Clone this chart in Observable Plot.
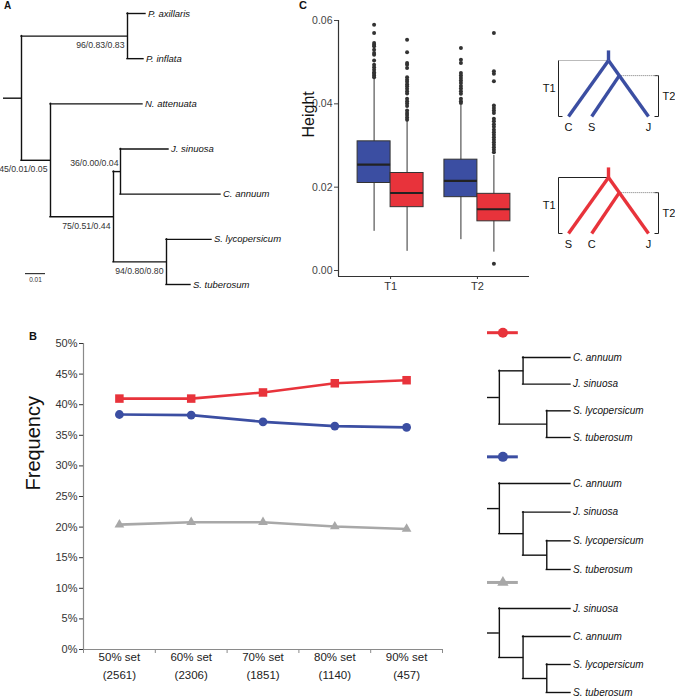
<!DOCTYPE html>
<html><head><meta charset="utf-8">
<script src="https://cdn.jsdelivr.net/npm/d3@7"></script>
<script src="https://cdn.jsdelivr.net/npm/@observablehq/plot@0.6"></script>
<style>
body{margin:0;background:#fff;}
#root{position:relative;width:675px;height:700px;overflow:hidden;font-family:"Liberation Sans",Arial,sans-serif;color:#111;}
.lab{position:absolute;font-weight:bold;line-height:1;}
</style></head><body><div id="root">
<div class="lab" style="left:4px;top:1px;font-size:10px">A</div>
<div class="lab" style="left:29px;top:331px;font-size:11px">B</div>
<div class="lab" style="left:299px;top:0px;font-size:11px">C</div>
</div>
<script>
// ---------- Panel A: phylogeny ----------
const treeANames   = ["root","n96","P. axillaris","P. inflata","n45","N. attenuata","n75","n36","J. sinuosa","C. annuum","n94","S. lycopersicum","S. tuberosum"];
const treeAParents = [null,"root","n96","n96","root","n45","n45","n75","n36","n36","n75","n94","n94"];
const treeADepths  = [0,0.053,0.062,0.061,0.0145,0.0605,0.046,0.0495,0.0735,0.0995,0.0725,0.095,0.0845];
const treeASupport = ["","96/0.83/0.83","","","45/0.01/0.05","","75/0.51/0.44","36/0.00/0.04","","","94/0.80/0.80","",""];
const scaleBarLength = 0.01;

// ---------- Panel C: boxplots ----------
const groups = ["T1","T2"];
const topologies = ["C,S,J","S,C,J"];
const topoColors = ["#3b4ea2","#e8333b"];
const boxGroup = ["T1","T1","T2","T2"];
const boxTopo  = ["C,S,J","S,C,J","C,S,J","S,C,J"];
const boxLow   = [0.0094,0.0046,0.0074,0.0044];
const boxQ1    = [0.0210,0.0152,0.0176,0.0118];
const boxMed   = [0.0254,0.0186,0.0215,0.0147];
const boxQ3    = [0.0310,0.0234,0.0266,0.0184];
const boxHigh  = [0.0460,0.0358,0.0396,0.0276];
const outT1Blue = [0.0590,0.0570,0.0546,0.0542,0.0538,0.0530,0.0522,0.0518,0.0504,0.0494,0.0488,0.0482,0.0476,0.0472,0.0468,0.0464];
const outT1Red  = [0.0554,0.0524,0.0498,0.0494,0.0486,0.0464,0.0458,0.0453,0.0447,0.0442,0.0436,0.0430,0.0425,0.0412,0.0406,0.0401,0.0395,0.0384,0.0378,0.0373,0.0367,0.0362];
const outT2Blue = [0.0534,0.0506,0.0498,0.0474,0.0468,0.0462,0.0456,0.0450,0.0443,0.0437,0.0430,0.0424,0.0412,0.0406,0.0402];
const outT2Red  = [0.0570,0.0478,0.0472,0.0454,0.0396,0.0390,0.0384,0.0378,0.0364,0.0358,0.0351,0.0345,0.0338,0.0332,0.0326,0.0320,0.0314,0.0308,0.0302,0.0296,0.0290,0.0284,0.0016];
const outliers = [outT1Blue, outT1Red, outT2Blue, outT2Red];
const heightTicks = [0,0.02,0.04,0.06];

// ---------- Panel C: topology schematics ----------
const schemBlueLeaves = ["C","S","J"];
const schemRedLeaves  = ["S","C","J"];
const schemLeafX = [0,0.29,1];
const schemT1 = 1, schemT2 = 0.73;

// ---------- Panel B: frequency lines ----------
const sets = ["50% set","60% set","70% set","80% set","90% set"];
const setSizes = ["(2561)","(2306)","(1851)","(1140)","(457)"];
const freqRed  = [41.0,41.0,42.0,43.5,44.0];
const freqBlue = [38.4,38.3,37.2,36.5,36.3];
const freqGray = [20.4,20.8,20.8,20.1,19.7];
const freqTicks = d3.range(0,51,5);
const grayColor = "#a8a8a8";

// ---------- Panel B: topology trees ----------
const tree1Names = ["root","nCJ","C. annuum","J. sinuosa","nS","S. lycopersicum","S. tuberosum"];
const tree1Parents = [null,"root","nCJ","nCJ","root","nS","nS"];
const tree1Depths = [0,1,3,3,2,3,3];
const tree2Names = ["root","C. annuum","n2","J. sinuosa","n3","S. lycopersicum","S. tuberosum"];
const tree2Parents = [null,"root","root","n2","n2","n3","n3"];
const tree2Depths = [0,3,1,3,2,3,3];
const tree3Names = ["root","J. sinuosa","n2","C. annuum","n3","S. lycopersicum","S. tuberosum"];
const tree3Parents = [null,"root","root","n2","n2","n3","n3"];
const tree3Depths = [0,3,1,3,2,3,3];

// ================= helpers =================
const FONT = "'Liberation Sans', Arial, sans-serif";
const root = document.getElementById("root");
function place(svg, left, top) {
  svg.style.position = "absolute";
  svg.style.left = left + "px";
  svg.style.top = top + "px";
  svg.style.background = "none";
  svg.style.overflow = "visible";
  svg.style.fontFamily = FONT;
  svg.style.maxWidth = "none";
  root.appendChild(svg);
}
function treeGeometry(names, parents, depths) {
  const idx = new Map(names.map((n, i) => [n, i]));
  const kids = names.map(() => []);
  parents.forEach((p, i) => { if (p !== null) kids[idx.get(p)].push(i); });
  const y = new Array(names.length);
  let leaf = 0;
  const r = parents.indexOf(null);
  (function visit(i) {
    if (!kids[i].length) { y[i] = leaf++; return; }
    kids[i].forEach(visit);
    y[i] = (y[kids[i][0]] + y[kids[i][kids[i].length - 1]]) / 2;
  })(r);
  const horiz = [], vert = [], leaves = [], nodes = [];
  names.forEach((n, i) => {
    const p = parents[i];
    if (p !== null) horiz.push({x1: depths[idx.get(p)], x2: depths[i], y: y[i], i});
    if (kids[i].length) {
      vert.push({x: depths[i], y1: y[kids[i][0]], y2: y[kids[i][kids[i].length - 1]]});
      nodes.push({x: depths[i], y: y[i], i, parentX: p === null ? depths[i] : depths[idx.get(p)]});
    } else leaves.push({x: depths[i], y: y[i], name: n});
  });
  return {horiz, vert, leaves, nodes, root: {x: depths[r], y: y[r]}, nLeaves: leaf};
}
function treeMarks(g, stub, opts) {
  const sw = opts.strokeWidth || 1.4;
  return [
    Plot.ruleY(g.horiz, {x1: "x1", x2: "x2", y: "y", stroke: "#111", strokeWidth: sw, strokeLinecap: "square"}),
    Plot.ruleX(g.vert, {x: "x", y1: "y1", y2: "y2", stroke: "#111", strokeWidth: sw, strokeLinecap: "square"}),
    Plot.ruleY([g.root], {x1: d => d.x - stub, x2: "x", y: "y", stroke: "#111", strokeWidth: sw}),
    Plot.text(g.leaves, {x: "x", y: "y", text: "name", textAnchor: "start", dx: 2.5, fontStyle: "italic", fontSize: opts.fontSize, fill: "#111"})
  ];
}

// ================= Panel A =================
{
  const g = treeGeometry(treeANames, treeAParents, treeADepths);
  const support = g.nodes.filter(d => treeASupport[d.i]).map(d => ({...d, label: treeASupport[d.i], shortBranch: (d.x - d.parentX) < 0.005}));
  const svg = Plot.plot({
    width: 270, height: 300, margin: 0,
    x: {domain: [0, 0.1], range: [21, 221], axis: null},
    y: {domain: [0, g.nLeaves - 1], range: [13, 284], axis: null},
    marks: [
      ...treeMarks(g, 0.009, {fontSize: 9.5}),
      Plot.text(support.filter(d => !d.shortBranch), {x: "x", y: "y", text: "label", textAnchor: "end", dx: -3, dy: 9, fontSize: 8.7, fill: "#333"}),
      Plot.text(support.filter(d => d.shortBranch), {x: "x", y: "y", text: "label", textAnchor: "end", dx: -2, dy: -8, fontSize: 8.7, fill: "#333"}),
      Plot.ruleY([{x1: 0.002, x2: 0.002 + scaleBarLength, y: g.nLeaves - 1.24}], {x1: "x1", x2: "x2", y: "y", stroke: "#111", strokeWidth: 1}),
      Plot.text([{x: 0.002 + scaleBarLength / 2, y: g.nLeaves - 1.24, t: String(scaleBarLength)}], {x: "x", y: "y", text: "t", dy: 6, fontSize: 6.5, fill: "#333"})
    ]
  });
  place(svg, 0, 0);
}

// ================= Panel C boxplots =================
{
  const boxW = 0.38;
  const boxes = boxGroup.map((g, i) => {
    const t = topologies.indexOf(boxTopo[i]);
    const xc = groups.indexOf(g) + 1 + (t - 0.5) * boxW;
    return {xc, x1: xc - boxW / 2, x2: xc + boxW / 2, lo: boxLow[i], q1: boxQ1[i], med: boxMed[i], q3: boxQ3[i], hi: boxHigh[i], color: topoColors[t]};
  });
  const outs = boxes.flatMap((b, i) => outliers[i].map(v => ({xc: b.xc, v})));
  const yBottom = -0.00144;
  const svg = Plot.plot({
    width: 262, height: 300,
    marginLeft: 68, marginRight: 3, marginTop: 20, marginBottom: 24,
    x: {domain: [0.4, 2.6]},
    y: {domain: [yBottom, 0.06]},
    color: {type: "identity"},
    marks: [
      Plot.ruleX(boxes, {x: "xc", y1: "lo", y2: "hi", stroke: "#333", strokeWidth: 1}),
      Plot.rect(boxes, {x1: "x1", x2: "x2", y1: "q1", y2: "q3", fill: "color", stroke: "#333", strokeWidth: 1}),
      Plot.ruleY(boxes, {x1: "x1", x2: "x2", y: "med", stroke: "#222", strokeWidth: 2.2}),
      Plot.dot(outs, {x: "xc", y: "v", r: 2, fill: "#333", stroke: null}),
      Plot.ruleX([0.4], {stroke: "#333", strokeWidth: 1.2}),
      Plot.ruleY([yBottom], {stroke: "#333", strokeWidth: 1.2}),
      Plot.axisY({ticks: heightTicks, tickFormat: d3.format(".2f"), tickSize: 4, tickPadding: 2, label: null, fontSize: 10.5, color: "#444"}),
      Plot.axisX({ticks: [1, 2], tickFormat: d => groups[d - 1], tickSize: 3, tickPadding: 3, label: null, fontSize: 11, color: "#333"}),
      Plot.text(["Height"], {frameAnchor: "left", rotate: -90, dx: -30, dy: -11, fontSize: 16, fill: "#111"})
    ]
  });
  place(svg, 270, 0);
}

// ================= Panel C schematics =================
function schematic(leaves, color, t1Dotted, top) {
  const lx = schemLeafX;
  const rootX = (lx[0] + lx[2]) / 2;
  const innerX = rootX + (1 - schemT2 / schemT1) * (lx[2] - rootX);
  const stub = 0.18, bl = lx[0] - 0.125, br = lx[2] + 0.125, tk = 0.05;
  const branches = [
    {x1: rootX, y1: schemT1, x2: rootX, y2: schemT1 + stub},
    {x1: rootX, y1: schemT1, x2: lx[0], y2: 0},
    {x1: rootX, y1: schemT1, x2: lx[2], y2: 0},
    {x1: innerX, y1: schemT2, x2: lx[1], y2: 0}
  ];
  const brackets = [
    {x1: bl, y1: 0, x2: bl, y2: schemT1},
    {x1: bl, y1: 0, x2: bl + tk, y2: 0},
    {x1: br, y1: 0, x2: br, y2: schemT2},
    {x1: br - tk, y1: 0, x2: br, y2: 0},
    {x1: br - tk, y1: schemT2, x2: br, y2: schemT2}
  ];
  const t1Conn = [{x1: bl, y1: schemT1, x2: rootX, y2: schemT1}];
  const t2Conn = [{x1: innerX, y1: schemT2, x2: br, y2: schemT2}];
  const leafData = leaves.map((n, i) => ({x: lx[i], y: 0, n}));
  const svg = Plot.plot({
    width: 160, height: 100, margin: 0,
    x: {domain: [0, 1], range: [48, 128], axis: null},
    y: {domain: [0, 1], range: [76, 20], axis: null},
    marks: [
      Plot.link(brackets, {x1: "x1", y1: "y1", x2: "x2", y2: "y2", stroke: "#222", strokeWidth: 1}),
      Plot.link(t1Conn, {x1: "x1", y1: "y1", x2: "x2", y2: "y2", stroke: t1Dotted ? "#777" : "#222", strokeWidth: 1, strokeDasharray: t1Dotted ? "1,1" : null}),
      Plot.link(t2Conn, {x1: "x1", y1: "y1", x2: "x2", y2: "y2", stroke: "#777", strokeWidth: 1, strokeDasharray: "1,1"}),
      Plot.link(branches, {x1: "x1", y1: "y1", x2: "x2", y2: "y2", stroke: color, strokeWidth: 3.4}),
      Plot.text(leafData, {x: "x", y: "y", text: "n", dy: 10.5, fontSize: 11, fill: "#111"}),
      Plot.text([{x: bl, y: schemT1 / 2, t: "T1"}], {x: "x", y: "y", text: "t", textAnchor: "end", dx: -3, fontSize: 11, fill: "#111"}),
      Plot.text([{x: br, y: schemT2 / 2, t: "T2"}], {x: "x", y: "y", text: "t", textAnchor: "start", dx: 4, fontSize: 11, fill: "#111"})
    ]
  });
  place(svg, 520, top);
}
schematic(schemBlueLeaves, topoColors[0], true, 40);
schematic(schemRedLeaves, topoColors[1], false, 157);

// ================= Panel B line chart =================
{
  const rows = (vals) => vals.map((v, i) => ({x: i + 0.5, y: v}));
  const red = rows(freqRed), blue = rows(freqBlue), gray = rows(freqGray);
  const svg = Plot.plot({
    width: 460, height: 380,
    marginLeft: 83, marginRight: 18, marginTop: 23, marginBottom: 51,
    x: {domain: [0, sets.length]},
    y: {domain: [0, 50]},
    marks: [
      Plot.ruleY([0], {stroke: "#8a8a8a", strokeWidth: 1.2}),
      Plot.ruleX([0], {stroke: "#8a8a8a", strokeWidth: 1.2}),
      Plot.axisY({ticks: freqTicks, tickFormat: d => d + "%", tickSize: 4, tickPadding: 2, label: null, fontSize: 11, color: "#333"}),
      Plot.axisX({ticks: d3.range(0, sets.length + 1), tickFormat: () => "", tickSize: 4, label: null, color: "#8a8a8a"}),
      Plot.text(sets, {x: (d, i) => i + 0.5, frameAnchor: "bottom", text: (d, i) => d + "\n" + setSizes[i], dy: 29, lineHeight: 1.5, fontSize: 11.5, fill: "#222"}),
      Plot.text(["Frequency"], {frameAnchor: "left", rotate: -90, dx: -50, dy: -6, fontSize: 20, fill: "#111"}),
      Plot.line(gray, {x: "x", y: "y", stroke: grayColor, strokeWidth: 2.6}),
      Plot.line(blue, {x: "x", y: "y", stroke: topoColors[0], strokeWidth: 2.6}),
      Plot.line(red, {x: "x", y: "y", stroke: topoColors[1], strokeWidth: 2.6}),
      Plot.dot(gray, {x: "x", y: "y", symbol: "triangle", r: 3.6, fill: grayColor, stroke: null}),
      Plot.dot(blue, {x: "x", y: "y", symbol: "circle", r: 4.4, fill: topoColors[0], stroke: null}),
      Plot.dot(red, {x: "x", y: "y", symbol: "square", r: 4.8, fill: topoColors[1], stroke: null})
    ]
  });
  place(svg, 0, 320);
}

// ================= Panel B trees =================
function smallTree(names, parents, depths, color, symbol, r, top, leafTop, leafBottom) {
  const g = treeGeometry(names, parents, depths);
  const legendY = -0.93;
  const svg = Plot.plot({
    width: 215, height: leafBottom - top + 8, margin: 0,
    x: {domain: [-0.5, 3], range: [27, 110], axis: null},
    y: {domain: [0, g.nLeaves - 1], range: [leafTop - top, leafBottom - top], axis: null},
    marks: [
      ...treeMarks(g, 0.5, {fontSize: 10}),
      Plot.ruleY([{x1: -0.5, x2: 0.8, y: legendY}], {x1: "x1", x2: "x2", y: "y", stroke: color, strokeWidth: 3}),
      Plot.dot([{x: 0.15, y: legendY}], {x: "x", y: "y", symbol, r, fill: color, stroke: null})
    ]
  });
  place(svg, 460, top);
}
smallTree(tree1Names, tree1Parents, tree1Depths, topoColors[1], "circle", 5, 322, 357, 437);
smallTree(tree2Names, tree2Parents, tree2Depths, topoColors[0], "circle", 5, 445, 483, 569);
smallTree(tree3Names, tree3Parents, tree3Depths, grayColor, "triangle", 4.2, 571, 608, 692);
</script></body></html>
